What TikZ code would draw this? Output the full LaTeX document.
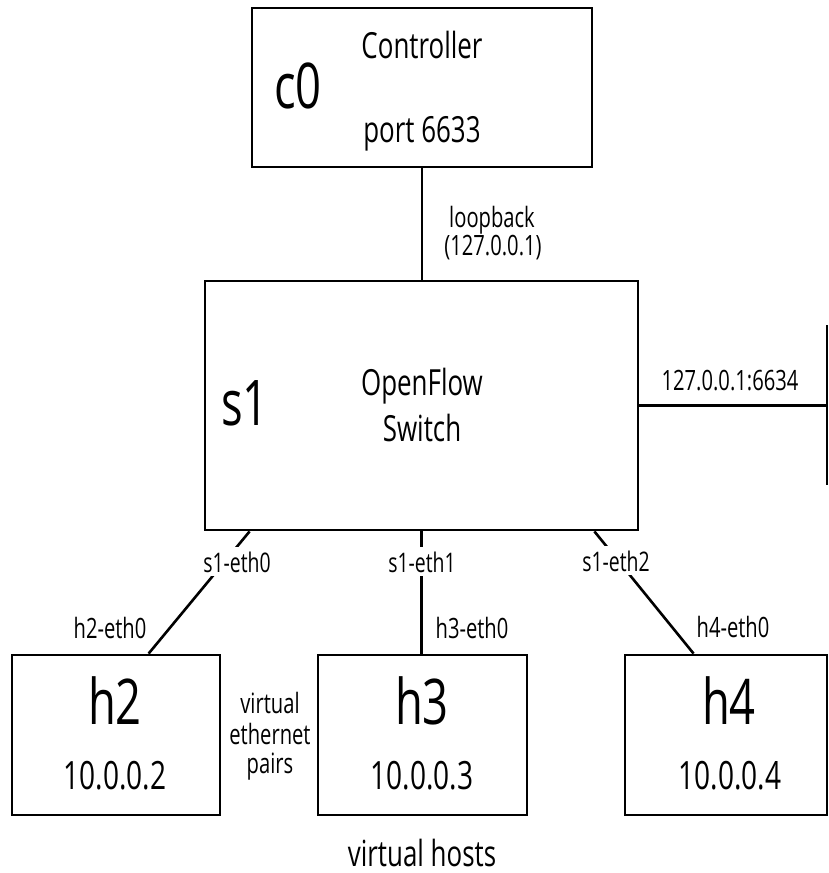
\documentclass[tikz,border=0pt]{standalone}
\usepackage{fontspec}
\setmainfont[FakeStretch=0.72]{Open Sans}
\begin{document}
\begin{tikzpicture}[x=1pt,y=-1pt,
  box/.style={draw, line width=2.8pt, inner sep=0pt, minimum height=#1},
  link/.style={line width=2.6pt},
  huge/.style={anchor=base, inner sep=0pt, font=\fontsize{63}{63}\selectfont},
  mid/.style={anchor=base, inner sep=0pt, font=\fontsize{36}{36}\selectfont},
  ipaddr/.style={anchor=base, inner sep=0pt, font=\fontsize{39}{39}\selectfont},
  small/.style={anchor=base, inner sep=0pt, font=\fontsize{28}{28}\selectfont},
  portlbl/.style={anchor=base, fill=white, inner xsep=4pt, inner ysep=4pt, font=\fontsize{27}{27}\selectfont}]
\useasboundingbox (0,0) rectangle (829,873);
% boxes
\node[box=159pt, minimum width=340pt] (c0) at (422,87.5) {};
\node[box=249pt, minimum width=433pt] (s1) at (421.5,405.5) {};
\node[box=160pt, minimum width=208pt] (h2) at (116,735) {};
\node[box=160pt, minimum width=209pt] (h3) at (422.5,735) {};
\node[box=160pt, minimum width=202pt] (h4) at (726,735) {};
\coordinate (extT) at (827,325);
\coordinate (extB) at (827,485);
% box texts
\node[huge] (c0name) at (298,108) {c0};
\node[mid] (c0t1) at (422,58) {Controller};
\node[mid] (c0t2) at (422,142) {port 6633};
\node[huge] (s1name) at (245,425) {s1};
\node[mid] (s1t1) at (422,395) {OpenFlow};
\node[mid] (s1t2) at (422,441) {Switch};
\node[huge] (h2name) at (115,724) {h2};
\node[ipaddr] (h2ip) at (115,789) {10.0.0.2};
\node[huge] (h3name) at (422,724) {h3};
\node[ipaddr] (h3ip) at (422,789) {10.0.0.3};
\node[huge] (h4name) at (729,724) {h4};
\node[ipaddr] (h4ip) at (730,789) {10.0.0.4};
% connectors
\draw[link] (c0.south) -- (c0.south |- s1.north);
\draw[link] (s1.east) -- (s1.east -| extT);
\draw[line width=2.8pt] (extT) -- (extB);
\draw[link] ([xshift=46pt]s1.south west) -- ([xshift=138pt]h2.north west);
\draw[link] (s1.south) -- (s1.south |- h3.north);
\draw[link] ([xshift=-45pt]s1.south east) -- ([xshift=70pt]h4.north west);
% labels
\node[small] (lb1) at (492,227) {loopback};
\node[small] (lb2) at (493,255) {(127.0.0.1)};
\node[small] (ext) at (730,390) {127.0.0.1:6634};
\node[portlbl] (p0) at (237,572) {s1-eth0};
\node[portlbl] (p1) at (422,572) {s1-eth1};
\node[portlbl] (p2) at (616,571) {s1-eth2};
\node[small] (e2) at (110,638) {h2-eth0};
\node[small] (e3) at (472,638) {h3-eth0};
\node[small] (e4) at (733,637) {h4-eth0};
\node[small] (v1) at (270,713) {virtual};
\node[small] (v2) at (270,744) {ethernet};
\node[small] (v3) at (270,773) {pairs};
\node[mid] (vh) at (422,866) {virtual hosts};
\end{tikzpicture}
\end{document}
